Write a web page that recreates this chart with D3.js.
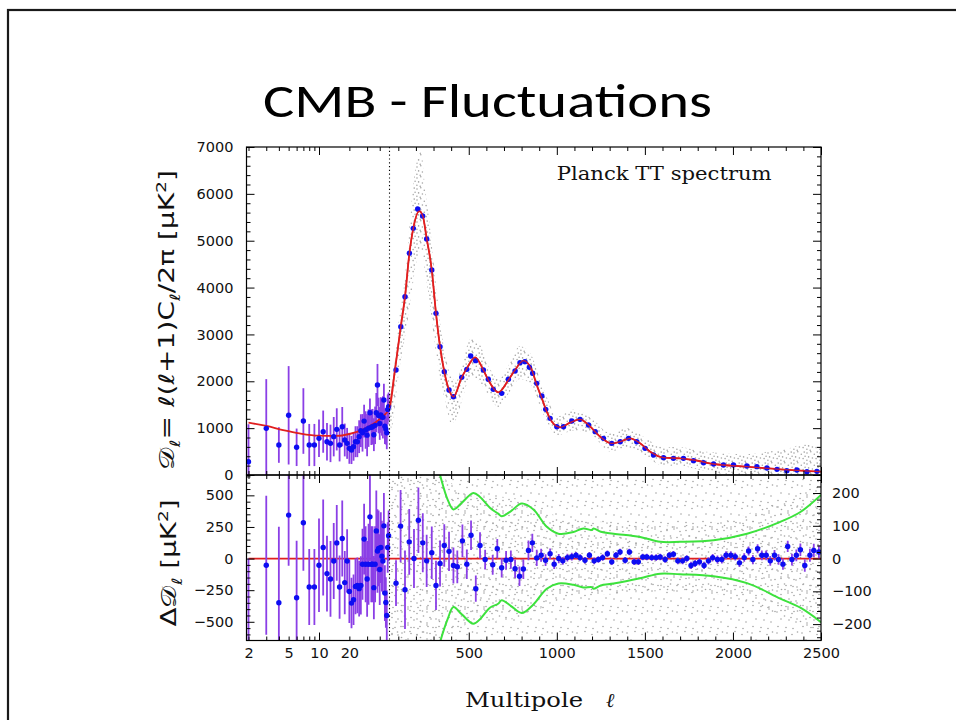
<!DOCTYPE html>
<html><head><meta charset="utf-8">
<script src="https://cdn.jsdelivr.net/npm/d3@7"></script>
<style>body{margin:0;background:#fff} svg{display:block}</style>
</head><body><svg id="c" width="956" height="720"></svg>
<script>
// ---------------- DATA ----------------
// best-fit theory curve (multipole, D_l in muK^2)
const thEll = [2,3,4.4,6.4,10,15,20,29,39,50,81,114,138,163,185,219,239,261,290,314,337,361,388,413,460,489,536,583,611,668,725,763,810,858,886,915,943,972,1019,1075,1132,1180,1246,1312,1360,1416,1473,1530,1606,1700,1776,1890,2080,2269,2500];
const thD   = [1116,1046,960,889,839,835,875,996,1174,1430,2241,3165,3805,4731,5264,5630,5527,5050,4375,3450,2738,2205,1814,1671,2084,2276,2511,2241,2027,1764,2027,2241,2440,2241,1920,1636,1351,1138,1017,1117,1188,1067,818,675,711,782,675,498,370,355,320,235,178,121,71];

// low-l points (l = 2..49): top panel value and error, residual and its error
const lowEll = [2,3,4,5,6,7,8,9,10,11,12,13,14,15,16,17,18,19,20,21,22,23,24,25,26,27,28,29,30,31,32,33,34,35,36,37,38,39,40,41,42,43,44,45,46,47,48,49];
const lowD   = [284,996,640,1274,591,1152,640,640,782,925,711,675,818,974,640,1031,747,675,569,534,605,711,711,818,946,900,1150,960,850,1000,1330,1020,1030,860,1060,1330,1920,1270,1100,1280,1240,1230,1600,1040,980,900,1400,1460];
const lowErr = [800,1050,380,1050,400,700,450,450,400,450,400,400,420,450,350,420,350,330,330,300,300,330,330,350,350,400,350,400,450,400,300,380,380,350,400,420,450,380,350,380,400,450,350,380,330,350,320,300];
const lowRes = [-830,-53,-349,344,-310,283,-225,-225,-53,87,-119,-161,-19,124,-225,159,-190,-19,-260,-352,-326,-220,-212,-238,-212,-45,154,-45,-161,-45,330,-45,-45,-230,-45,219,60,81,-87,87,19,-19,259,-273,-347,-450,87,180];
const lowResErr = [830,550,600,400,450,380,300,300,370,380,300,300,300,300,250,300,250,250,250,200,200,220,220,220,230,280,280,300,300,320,350,300,300,250,300,320,330,300,280,280,280,260,260,220,200,200,200,200];

// binned high-l points, top panel
const hiEll = [87,114,138,163,185,210,238,261,290,314,337,361,388,413,460,489,511,539,583,611,639,687,725,763,791,819,844,863,886,915,937,962,1000,1038,1085,1132,1180,1218,1265,1312,1360,1407,1454,1501,1549,1606,1662,1719,1776,1833,1890,1946,2003,2079,2136,2193,2250,2306,2363,2420,2477];
const hiD   = [2241,3165,3805,4731,5264,5676,5527,5035,4375,3450,2738,2205,1814,1671,2084,2255,2540,2440,2241,2042,1828,1743,2042,2220,2397,2419,2298,2170,1956,1686,1401,1209,1031,1031,1152,1188,1067,925,782,675,711,782,711,569,427,370,355,355,306,263,235,213,213,192,178,149,121,92,107,71,78];

// binned high-l residuals (right-hand scale)
const resEll = [87,113,138,162,189,214,239,261,290,314,337,361,388,413,435,464,489,513,540,564,593,636,662,687,712,739,763,788,810,839,861,886,911,936,962,985,1011,1034,1060,1085,1109,1132,1160,1185,1212,1236,1260,1287,1312,1336,1359,1388,1412,1439,1463,1488,1511,1539,1564,1587,1615,1639,1662,1687,1714,1738,1762,1785,1810,1836,1861,1885,1912,1937,1961,1988,2013,2037,2064,2089,2113,2140,2164,2189,2212,2236,2259,2284,2311,2335,2360,2383,2408,2437,2459,2488];
const resVal = [-75,99,-95,51,0,117,48,-7,18,-82,-15,40,22,-21,-25,54,-17,71,-92,40,-3,-19,30,-28,-5,-3,-31,-54,-32,25,48,2,10,-5,15,-17,0,-7,3,6,10,3,-5,10,-7,-3,3,15,-10,10,20,-5,20,-10,-10,5,5,3,3,5,-3,10,13,-7,-7,0,-21,-15,-10,-21,-7,3,-3,-3,10,10,6,-13,3,23,-3,30,10,10,-7,10,-3,-17,37,-3,10,27,-21,10,25,20];
const resErr = [70,110,120,100,90,100,90,80,80,75,70,65,60,55,50,50,45,45,40,40,30,30,30,30,28,28,28,30,30,30,28,25,20,18,16,15,14,12,12,12,10,10,10,10,10,10,10,10,10,10,10,10,10,10,10,10,10,10,10,10,10,10,10,10,10,10,11,11,11,11,11,11,12,12,12,12,12,13,13,14,14,14,15,15,15,16,16,17,17,18,18,19,19,20,20,20];

// green +/- curves (right-hand scale)
const greenEll = [300,337,380,413,460,526,564,620,667,687,740,801,867,943,1009,1094,1151,1199,1208,1250,1322,1473,1587,1700,1890,2080,2269,2383,2500];
const greenHi  = [330,255,180,150,170,200,188,155,137,129,145,168,150,97,76,81,92,87,92,82,76,66,51,51,56,76,112,142,194];
const greenLo  = [-330,-255,-185,-148,-170,-199,-185,-150,-138,-127,-145,-166,-140,-92,-76,-80,-88,-87,-92,-82,-76,-60,-46,-48,-54,-75,-122,-150,-194];

// envelope of unbinned scatter, top panel
const scatEll = [50,60,100,140,170,200,230,250,280,310,340,370,400,430,470,510,560,610,670,720,790,850,900,950,1000,1100,1200,1300,1400,1500,1600,1700,1800,1900,2000,2100,2200,2300,2400,2500];
const scatHi  = [1900,1900,3200,4300,5600,6600,6900,6200,5300,4200,3200,2500,2100,2000,2500,2900,2800,2350,2050,2300,2750,2600,2100,1600,1250,1400,1200,900,1000,800,600,600,520,480,450,450,500,550,650,600];
const scatLo  = [1100,1000,2100,3000,3700,4500,4800,4400,3600,2700,2000,1500,1100,1200,1700,2100,2000,1700,1450,1700,2050,1950,1500,1100,850,950,850,500,580,420,200,200,120,50,0,0,0,0,0,0];
// denser residual scatter band (right-hand scale)
const rsEll = [50,300,500,800,1000,1300,1600,1900,2200,2500];
const rsHi  = [255,255,200,180,130,110,100,110,160,230];
const rsLo  = [-250,-250,-200,-180,-130,-110,-100,-110,-160,-230];

const topTicks = [0,1000,2000,3000,4000,5000,6000,7000];
const resTicksL = [-500,-250,0,250,500];
const resTicksR = [-200,-100,0,100,200];
const xLogLabels = [2,5,10,20];
const xLinLabels = [500,1000,1500,2000,2500];

// ---------------- LAYOUT ----------------
const L = 246.5, R = 821, T = 147, M = 475, B = 640.5;
const svg = d3.select("#c");

const xLog = d3.scaleLog().domain([2,50]).range([248.5,389.5]);
const xLin = d3.scaleLinear().domain([50,2500]).range([389.5,R]);
const X = l => l < 50 ? xLog(l) : xLin(l);
const yTop = d3.scaleLinear().domain([0,7000]).range([M,T]);
const yRes = d3.scaleLinear().domain([-648,661]).range([B,M]);
const yResR = d3.scaleLinear().domain([-250,255]).range([B,M]);

// slide border & title
svg.append("rect").attr("x",8).attr("y",10).attr("width",1000).attr("height",800)
  .attr("fill","none").attr("stroke","#1a1a1a").attr("stroke-width",2.2);
svg.append("text").attr("x",487.5).attr("y",117).attr("text-anchor","middle")
  .attr("textLength",449).attr("lengthAdjust","spacingAndGlyphs")
  .style("font-family","Carlito, 'Open Sans', Lato, sans-serif").style("font-size","47px").style("fill","#000")
  .text("CMB - Fluctuations");

const defs = svg.append("defs");
defs.append("clipPath").attr("id","cTop").append("rect").attr("x",L).attr("y",T).attr("width",R-L).attr("height",M-T);
defs.append("clipPath").attr("id","cBot").append("rect").attr("x",L).attr("y",M).attr("width",R-L).attr("height",B-M);
function pattern(id,w,h,pts){
  const p = defs.append("pattern").attr("id",id).attr("width",w).attr("height",h).attr("patternUnits","userSpaceOnUse");
  pts.forEach(([cx,cy])=>p.append("circle").attr("cx",cx).attr("cy",cy).attr("r",0.8).attr("fill","#a3a3a3"));
}
pattern("pDense",13,11,[[1,2],[4.8,0.8],[8.3,3.2],[11.2,1.1],[2.6,5.9],[6.4,7],[10.1,7.6],[0.9,9.3],[4.2,10.2],[12.1,5.2]]);
pattern("pMid",19,16,[[2,2.5],[9,1],[15,3.5],[5.5,8],[12,9.5],[18,11],[2.5,13.5],[9,15]]);
pattern("pSparse",25,21,[[2,3],[10,1.5],[17,4.5],[22.5,2],[6,10],[14,11],[21,13],[3,17.5],[11,18.5],[18,19.5]]);

const gTop = svg.append("g").attr("clip-path","url(#cTop)");
const gBot = svg.append("g").attr("clip-path","url(#cBot)");

// scatter, top
const scat = scatEll.map((l,i)=>({l,lo:scatLo[i],hi:scatHi[i]}));
gTop.append("path").datum(scat).attr("fill","url(#pDense)")
  .attr("d",d3.area().x(d=>X(d.l)).y0(d=>yTop(d.lo)).y1(d=>yTop(d.hi)).curve(d3.curveMonotoneX));
// scatter, bottom
gBot.append("path").datum([{l:50},{l:2500}]).attr("fill","url(#pSparse)")
  .attr("d",d3.area().x(d=>X(d.l)).y0(yResR(-250)).y1(yResR(255)));
const rs = rsEll.map((l,i)=>({l,lo:rsLo[i],hi:rsHi[i]}));
gBot.append("path").datum(rs).attr("fill","url(#pMid)")
  .attr("d",d3.area().x(d=>X(d.l)).y0(d=>yResR(d.lo)).y1(d=>yResR(d.hi)).curve(d3.curveMonotoneX));

// dotted separator at l = 50
[[T,M],[M,B]].forEach(([a,b])=>svg.append("line").attr("x1",X(50)).attr("x2",X(50)).attr("y1",a).attr("y2",b)
  .attr("stroke","#000").attr("stroke-width",1.1).attr("stroke-dasharray","1.2,2.6"));

// green curves
const gl = d3.line().x(d=>X(d.l)).y(d=>yResR(d.v)).curve(d3.curveCatmullRom);
[greenHi,greenLo].forEach(arr=>gBot.append("path").datum(greenEll.map((l,i)=>({l,v:arr[i]})))
  .attr("fill","none").attr("stroke","#3de23d").attr("stroke-width",2).attr("d",gl));

// red zero line
gBot.append("line").attr("x1",X(2)).attr("x2",R).attr("y1",yRes(0)).attr("y2",yRes(0))
  .attr("stroke","#e01f1f").attr("stroke-width",1.8);

const PURPLE = "#8b3fe6", BLUE = "#0d0df2";
// low-l, top panel
const low = lowEll.map((l,i)=>({l,d:lowD[i],e:lowErr[i],r:lowRes[i],re:lowResErr[i]}));
gTop.selectAll(".eb").data(low).join("line").attr("x1",d=>X(d.l)).attr("x2",d=>X(d.l))
  .attr("y1",d=>yTop(d.d-d.e)).attr("y2",d=>yTop(d.d+d.e)).attr("stroke",PURPLE).attr("stroke-width",1.8);
// red theory curve
const th = thEll.map((l,i)=>({l,d:thD[i]}));
gTop.append("path").datum(th).attr("fill","none").attr("stroke","#e01f1f").attr("stroke-width",1.8)
  .attr("d",d3.line().x(d=>X(d.l)).y(d=>yTop(d.d)).curve(d3.curveMonotoneX));
gTop.selectAll(".dl").data(low).join("circle").attr("cx",d=>X(d.l)).attr("cy",d=>yTop(d.d)).attr("r",2.7).attr("fill",BLUE);
const hi = hiEll.map((l,i)=>({l,d:hiD[i]}));
gTop.selectAll(".dh").data(hi).join("circle").attr("cx",d=>X(d.l)).attr("cy",d=>yTop(d.d)).attr("r",2.7).attr("fill",BLUE);
gTop.append("path").datum(th.filter(d=>d.l>=50)).attr("fill","none").attr("stroke","#e01f1f").attr("stroke-width",1.4).attr("opacity",0.85)
  .attr("d",d3.line().x(d=>X(d.l)).y(d=>yTop(d.d)).curve(d3.curveMonotoneX));

// residuals, low-l (left scale)
gBot.selectAll(".rb").data(low).join("line").attr("x1",d=>X(d.l)).attr("x2",d=>X(d.l))
  .attr("y1",d=>yRes(d.r-d.re)).attr("y2",d=>yRes(d.r+d.re)).attr("stroke",PURPLE).attr("stroke-width",1.8);
gBot.selectAll(".rd").data(low).join("circle").attr("cx",d=>X(d.l)).attr("cy",d=>yRes(d.r)).attr("r",2.7).attr("fill",BLUE);
// residuals, high-l (right scale)
const res = resEll.map((l,i)=>({l,v:resVal[i],e:resErr[i]}));
gBot.selectAll(".hb").data(res).join("line").attr("x1",d=>X(d.l)).attr("x2",d=>X(d.l))
  .attr("y1",d=>yResR(d.v-d.e)).attr("y2",d=>yResR(d.v+d.e)).attr("stroke",PURPLE).attr("stroke-width",1.8);
gBot.selectAll(".hd").data(res).join("circle").attr("cx",d=>X(d.l)).attr("cy",d=>yResR(d.v)).attr("r",2.7).attr("fill",BLUE);

// ---------------- AXES ----------------
const tickFont = g => g.selectAll("text").style("font-family","'DejaVu Sans', sans-serif").style("font-size","14.5px").style("fill","#111");
const noDom = g => g.select(".domain").remove();
const range = (a,b,s) => d3.range(a,b+s/2,s);
function ticks(axisFn, scale, pos, vals, len, transformAxis){
  svg.append("g").attr("transform",transformAxis(pos)).call(axisFn(scale).tickValues(vals).tickSize(-len).tickFormat("")).call(noDom)
    .selectAll("line").attr("stroke","#000").attr("stroke-width",1);
}
const tx = p => `translate(0,${p})`, ty = p => `translate(${p},0)`;
const logMinor = [2,3,4,5,6,7,8,9,20,30,40], logMajor = [10];
const linMinor = range(100,2400,100).filter(v=>v%500), linMajor = xLinLabels;
function xTicks(y, up){
  const f = up ? d3.axisBottom : d3.axisTop;
  ticks(f,xLog,y,logMinor,4,tx); ticks(f,xLog,y,logMajor,8,tx);
  ticks(f,xLin,y,linMinor,4,tx); ticks(f,xLin,y,linMajor,8,tx);
}
xTicks(T,false); xTicks(M,true); xTicks(M,false); xTicks(B,true);
// y ticks top panel
ticks(d3.axisLeft,yTop,L,range(0,7000,200).filter(v=>v%1000),4,ty);
ticks(d3.axisLeft,yTop,L,topTicks,8,ty);
ticks(d3.axisRight,yTop,R,range(0,7000,200).filter(v=>v%1000),4,ty);
ticks(d3.axisRight,yTop,R,topTicks,8,ty);
// y ticks bottom panel
ticks(d3.axisLeft,yRes,L,range(-600,650,50).filter(v=>v%250),4,ty);
ticks(d3.axisLeft,yRes,L,resTicksL,8,ty);
ticks(d3.axisRight,yResR,R,range(-240,240,20).filter(v=>v%100),4,ty);
ticks(d3.axisRight,yResR,R,resTicksR,8,ty);

// frames
[[T,M],[M,B]].forEach(([a,b])=>svg.append("rect").attr("x",L).attr("y",a).attr("width",R-L).attr("height",b-a)
  .attr("fill","none").attr("stroke","#000").attr("stroke-width",1.2));

// labels
svg.append("g").attr("transform",ty(L)).call(d3.axisLeft(yTop).tickValues(topTicks).tickSize(0).tickPadding(13).tickFormat(d3.format("d"))).call(noDom).call(tickFont);
svg.append("g").attr("transform",ty(L)).call(d3.axisLeft(yRes).tickValues(resTicksL).tickSize(0).tickPadding(13).tickFormat(d3.format("d"))).call(noDom).call(tickFont);
svg.append("g").attr("transform",ty(R)).call(d3.axisRight(yResR).tickValues(resTicksR).tickSize(0).tickPadding(11).tickFormat(d3.format("d"))).call(noDom).call(tickFont);
svg.append("g").attr("transform",tx(B)).call(d3.axisBottom(xLog).tickValues(xLogLabels).tickSize(0).tickPadding(7.5).tickFormat(d3.format("d"))).call(noDom).call(tickFont);
svg.append("g").attr("transform",tx(B)).call(d3.axisBottom(xLin).tickValues(xLinLabels).tickSize(0).tickPadding(7.5).tickFormat(d3.format("d"))).call(noDom).call(tickFont);

// in-plot label
svg.append("text").attr("x",556.7).attr("y",179.5).attr("textLength",215).attr("lengthAdjust","spacingAndGlyphs")
  .style("font-family","'DejaVu Serif', serif").style("font-size","18px").style("fill","#111").text("Planck TT spectrum");

// x-axis title
svg.append("text").attr("x",465).attr("y",706.5).attr("textLength",118).attr("lengthAdjust","spacingAndGlyphs")
  .style("font-family","'DejaVu Serif', serif").style("font-size","20px").style("fill","#111").text("Multipole");
svg.append("text").attr("x",606).attr("y",706.5).style("font-family","'DejaVu Serif', serif").style("font-style","italic")
  .style("font-size","20px").style("fill","#111").text("ℓ");

// y-axis titles
function ylabel(cx, cy, len, parts){
  const t = svg.append("text").attr("transform",`translate(${cx},${cy}) rotate(-90)`).attr("text-anchor","middle")
    .attr("textLength",len).attr("lengthAdjust","spacingAndGlyphs")
    .style("font-family","'DejaVu Sans', 'Noto Sans', serif").style("font-size","21px").style("fill","#111");
  parts.forEach(([s,dy,fs])=>{ const sp=t.append("tspan").text(s); if(dy) sp.attr("dy",dy); if(fs) sp.style("font-size",fs); });
}
ylabel(174,320,300,[["𝒟"],["ℓ",6,"14px"],["= ℓ(ℓ+1)C",-6],["ℓ",6,"14px"],["/2π  [μK",-6],["2",-8,"14px"],["]",8]]);
ylabel(176,563,127,[["Δ𝒟"],["ℓ",6,"14px"],["  [μK",-6],["2",-8,"14px"],["]",8]]);
</script></body></html>
